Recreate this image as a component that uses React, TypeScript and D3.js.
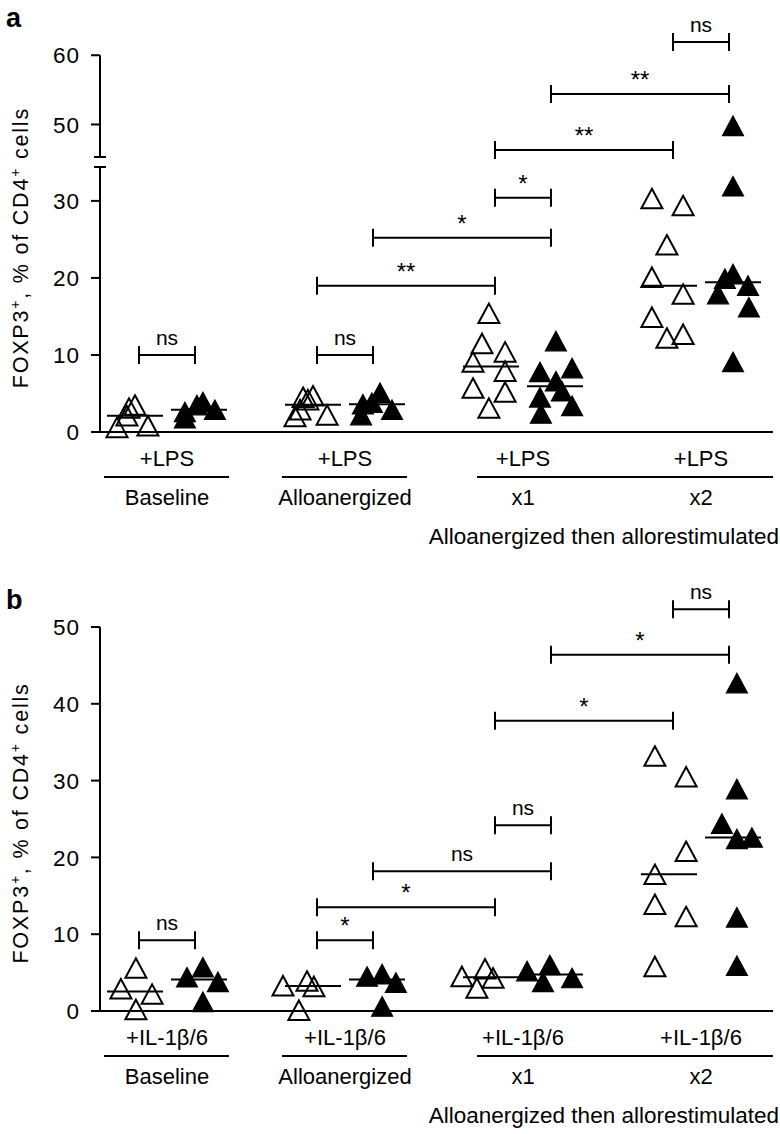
import React from "react";
import * as d3 from "d3";

// ---------- categories & labels ----------
const groupNames = ["Baseline", "Alloanergized", "x1", "x2"];
const subNames = ["open", "filled"];
const treatA = "+LPS";
const treatB = "+IL-1β/6";
const spanLabel = "Alloanergized then allorestimulated";
const yTicksA = [0, 10, 20, 30, 50, 60];
const yTicksB = [0, 10, 20, 30, 40, 50];
const breakA = [34.4, 45.3]; // axis break (panel a)

// ---------- panel a values (% FOXP3+ of CD4+) ----------
const aBaselineOpen = [0.6, 0.8, 2.1, 3.1, 3.5];
const aBaselineFilled = [1.8, 2.6, 2.9, 3.5, 3.9];
const aAlloOpen = [2.0, 2.2, 2.9, 4.2, 4.5, 4.7];
const aAlloFilled = [2.2, 2.9, 3.6, 3.8, 5.1];
const aX1Open = [15.4, 11.5, 10.4, 9.1, 7.9, 5.7, 5.2, 3.1];
const aX1Filled = [11.8, 7.8, 8.3, 6.6, 5.3, 4.5, 3.4, 2.4];
const aX2Open = [30.3, 29.4, 24.3, 20.1, 17.9, 14.9, 12.7, 12.2];
const aX2Filled = [49.8, 31.9, 19.9, 20.5, 19.0, 17.9, 16.2, 9.1];
// horizontal spread of the points (fraction of the spread width)
const aBaselineOpenJit = [-0.6, 0.43, -0.27, -0.2, 0];
const aBaselineFilledJit = [-0.47, -0.47, 0.53, -0.07, 0.13];
const aAlloOpenJit = [-0.6, 0.47, -0.43, -0.17, -0.33, 0];
const aAlloFilledJit = [-0.53, 0.5, -0.47, -0.17, 0.1];
const aX1OpenJit = [-0.07, -0.3, 0.47, -0.6, 0.47, -0.6, 0.47, -0.07];
const aX1FilledJit = [0.03, -0.5, 0.57, 0.03, 0.23, -0.5, 0.57, -0.47];
const aX2OpenJit = [-0.57, 0.47, -0.07, -0.57, 0.47, -0.57, 0.47, -0.07];
const aX2FilledJit = [0, 0, -0.27, 0, 0.5, -0.5, 0.53, 0];

// ---------- panel b values ----------
const bBaselineOpen = [5.6, 2.9, 2.2, 0.2];
const bBaselineFilled = [5.7, 4.4, 3.8, 1.2];
const bAlloOpen = [3.3, 3.9, 3.2, 0.1];
const bAlloFilled = [4.5, 4.8, 3.7, 0.6];
const bX1Open = [4.5, 5.5, 4.3, 3.0];
const bX1Filled = [5.2, 6.0, 3.8, 4.3];
const bX2Open = [33.2, 30.5, 20.8, 17.8, 13.9, 12.3, 5.8];
const bX2Filled = [42.7, 28.9, 24.4, 22.6, 22.4, 12.2, 5.9];
const bBaselineOpenJit = [0.03, -0.47, 0.57, 0.03];
const bBaselineFilledJit = [0.13, -0.4, 0.63, 0.13];
const bAlloOpenJit = [-1, -0.2, 0.03, -0.47];
const bAlloFilledJit = [-0.33, 0.17, 0.63, 0.17];
const bX1OpenJit = [-0.97, -0.2, 0.07, -0.47];
const bX1FilledJit = [-0.93, -0.17, -0.4, 0.57];
const bX2OpenJit = [-0.47, 0.57, 0.57, -0.47, -0.47, 0.57, -0.47];
const bX2FilledJit = [0.13, 0.13, -0.37, 0.63, 0.13, 0.13, 0.13];

// ---------- significance brackets: column indices (0..7) ----------
const bracketsA = [
  { from: 0, to: 1, y: 10, label: "ns" },
  { from: 2, to: 3, y: 10, label: "ns" },
  { from: 2, to: 4, y: 19, label: "**" },
  { from: 3, to: 5, y: 25.2, label: "*" },
  { from: 4, to: 5, y: 30.4, label: "*" },
  { from: 4, to: 6, y: 46.3, label: "**" },
  { from: 5, to: 7, y: 54.4, label: "**" },
  { from: 6, to: 7, y: 61.9, label: "ns" },
];
const bracketsB = [
  { from: 0, to: 1, y: 9.2, label: "ns" },
  { from: 2, to: 3, y: 9.2, label: "*" },
  { from: 2, to: 4, y: 13.5, label: "*" },
  { from: 3, to: 5, y: 18.2, label: "ns" },
  { from: 4, to: 5, y: 24.2, label: "ns" },
  { from: 4, to: 6, y: 37.8, label: "*" },
  { from: 5, to: 7, y: 46.4, label: "*" },
  { from: 6, to: 7, y: 52.3, label: "ns" },
];

const FONT = "'Liberation Sans', Arial, Helvetica, sans-serif";
const AXIS_X = 100;
const AXIS_END = 773;

const groupScale = d3.scaleBand<string>().domain(groupNames).range([78, 790]);
const subScale = d3.scalePoint<string>().domain(subNames).range([-32, 32]);
const jitterScale = d3.scaleLinear().domain([-1, 1]).range([-30, 30]);

function colX(c: number) {
  const g = groupNames[Math.floor(c / 2)];
  return (groupScale(g) as number) + groupScale.bandwidth() / 2 + (subScale(subNames[c % 2]) as number);
}
function groupMid(g: string) {
  return (groupScale(g) as number) + groupScale.bandwidth() / 2;
}

const TW = 21;
const TH = 19.5;
const triPath = `M0,${-TH / 2}L${TW / 2},${TH / 2}L${-TW / 2},${TH / 2}Z`;

type Col = { values: number[]; jitter: number[] };
type Br = { from: number; to: number; y: number; label: string };

function Panel(props: {
  y: d3.ScaleLinear<number, number>;
  ticks: number[];
  brk?: number[];
  yMax: number;
  cols: Col[];
  brackets: Br[];
  treatment: string;
  letter: string;
  letterY: number;
}) {
  const { y, ticks, brk, yMax, cols, brackets, treatment, letter, letterY } = props;
  const y0 = y(0);
  const axisSegs: [number, number][] = brk
    ? [
        [y(0), y(brk[0])],
        [y(brk[1]), y(yMax)],
      ]
    : [[y(0), y(yMax)]];
  const titleMid = (y(0) + y(yMax)) / 2 + 4;
  return (
    <g>
      <text x={6} y={letterY} fontSize={27} fontWeight="bold" fontFamily={FONT}>
        {letter}
      </text>
      {/* y axis title */}
      <text
        transform={`translate(28,${titleMid}) rotate(-90)`}
        textAnchor="middle"
        fontSize={21.5}
        letterSpacing={1.8}
        fontFamily={FONT}
      >
        FOXP3
        <tspan fontSize={14} dy={-8}>+</tspan>
        <tspan dy={8}>, % of CD4</tspan>
        <tspan fontSize={14} dy={-8}>+</tspan>
        <tspan dy={8}> cells</tspan>
      </text>
      {/* y axis */}
      {axisSegs.map((s, i) => (
        <line key={i} x1={AXIS_X} x2={AXIS_X} y1={s[0]} y2={s[1]} stroke="#000" strokeWidth={2} />
      ))}
      {brk &&
        brk.map((b, i) => (
          <line key={"b" + i} x1={AXIS_X - 6} x2={AXIS_X + 6} y1={y(b)} y2={y(b)} stroke="#000" strokeWidth={2} />
        ))}
      {ticks.map((t) => (
        <g key={t}>
          <line x1={AXIS_X - 9} x2={AXIS_X} y1={y(t)} y2={y(t)} stroke="#000" strokeWidth={2} />
          <text x={AXIS_X - 20} y={y(t)} dy="0.36em" textAnchor="end" fontSize={22.5} letterSpacing={1} fontFamily={FONT}>
            {t}
          </text>
        </g>
      ))}
      {/* x axis */}
      <line x1={AXIS_X - 1} x2={AXIS_END} y1={y0} y2={y0} stroke="#000" strokeWidth={2} />
      {/* medians */}
      {cols.map((c, i) => {
        const m = d3.median(c.values) as number;
        const cx = colX(i);
        return <line key={"m" + i} x1={cx - 28} x2={cx + 28} y1={y(m)} y2={y(m)} stroke="#000" strokeWidth={2} />;
      })}
      {/* points */}
      {cols.map((c, i) =>
        c.values.map((v, j) => (
          <path
            key={i + "-" + j}
            d={triPath}
            transform={`translate(${colX(i) + jitterScale(c.jitter[j])},${y(v)})`}
            fill={i % 2 ? "#000" : "none"}
            stroke="#000"
            strokeWidth={i % 2 ? 1.2 : 2}
          />
        ))
      )}
      {/* brackets */}
      {brackets.map((b, i) => {
        const xa = colX(b.from) + (b.from % 2 ? -4 : 4);
        const xb = colX(b.to) + (b.to % 2 ? -4 : 4);
        const yy = y(b.y);
        return (
          <g key={"br" + i}>
            <line x1={xa} x2={xb} y1={yy} y2={yy} stroke="#000" strokeWidth={2} />
            <line x1={xa} x2={xa} y1={yy - 9} y2={yy + 9} stroke="#000" strokeWidth={2} />
            <line x1={xb} x2={xb} y1={yy - 9} y2={yy + 9} stroke="#000" strokeWidth={2} />
            <text
              x={(xa + xb) / 2}
              y={yy - (b.label === "ns" ? 10 : 6)}
              textAnchor="middle"
              fontSize={b.label === "ns" ? 21 : 24}
              fontFamily={FONT}
            >
              {b.label}
            </text>
          </g>
        );
      })}
      {/* category labels */}
      {groupNames.map((g) => (
        <text key={"t" + g} x={groupMid(g)} y={y0 + 26} dy="0.36em" textAnchor="middle" fontSize={22} fontFamily={FONT}>
          {treatment}
        </text>
      ))}
      {groupNames.map((g) => (
        <text key={"c" + g} x={groupMid(g)} y={y0 + 65} dy="0.36em" textAnchor="middle" fontSize={22} fontFamily={FONT}>
          {g}
        </text>
      ))}
      {groupNames.slice(0, 2).map((g) => (
        <line key={"u" + g} x1={groupMid(g) - 63} x2={groupMid(g) + 62} y1={y0 + 45} y2={y0 + 45} stroke="#000" strokeWidth={2} />
      ))}
      <line x1={groupMid("x1") - 46} x2={AXIS_END} y1={y0 + 45} y2={y0 + 45} stroke="#000" strokeWidth={2} />
      <text x={779} y={y0 + 104} dy="0.36em" textAnchor="end" fontSize={22.5} fontFamily={FONT}>
        {spanLabel}
      </text>
    </g>
  );
}

export default function App() {
  const yA = d3
    .scaleLinear()
    .domain([0, breakA[0], breakA[1], 62])
    .range([432, 167, 157, 41.4]);
  const yB = d3.scaleLinear().domain([0, 50]).range([1011, 627]);

  const colsA: Col[] = [
    { values: aBaselineOpen, jitter: aBaselineOpenJit },
    { values: aBaselineFilled, jitter: aBaselineFilledJit },
    { values: aAlloOpen, jitter: aAlloOpenJit },
    { values: aAlloFilled, jitter: aAlloFilledJit },
    { values: aX1Open, jitter: aX1OpenJit },
    { values: aX1Filled, jitter: aX1FilledJit },
    { values: aX2Open, jitter: aX2OpenJit },
    { values: aX2Filled, jitter: aX2FilledJit },
  ];
  const colsB: Col[] = [
    { values: bBaselineOpen, jitter: bBaselineOpenJit },
    { values: bBaselineFilled, jitter: bBaselineFilledJit },
    { values: bAlloOpen, jitter: bAlloOpenJit },
    { values: bAlloFilled, jitter: bAlloFilledJit },
    { values: bX1Open, jitter: bX1OpenJit },
    { values: bX1Filled, jitter: bX1FilledJit },
    { values: bX2Open, jitter: bX2OpenJit },
    { values: bX2Filled, jitter: bX2FilledJit },
  ];

  return (
    <svg width={780} height={1134} style={{ position: "absolute", left: 0, top: 0, background: "#fff" }}>
      <rect width={780} height={1134} fill="#fff" />
      <Panel y={yA} ticks={yTicksA} brk={breakA} yMax={60} cols={colsA} brackets={bracketsA} treatment={treatA} letter="a" letterY={27} />
      <Panel y={yB} ticks={yTicksB} yMax={50} cols={colsB} brackets={bracketsB} treatment={treatB} letter="b" letterY={609} />
    </svg>
  );
}
